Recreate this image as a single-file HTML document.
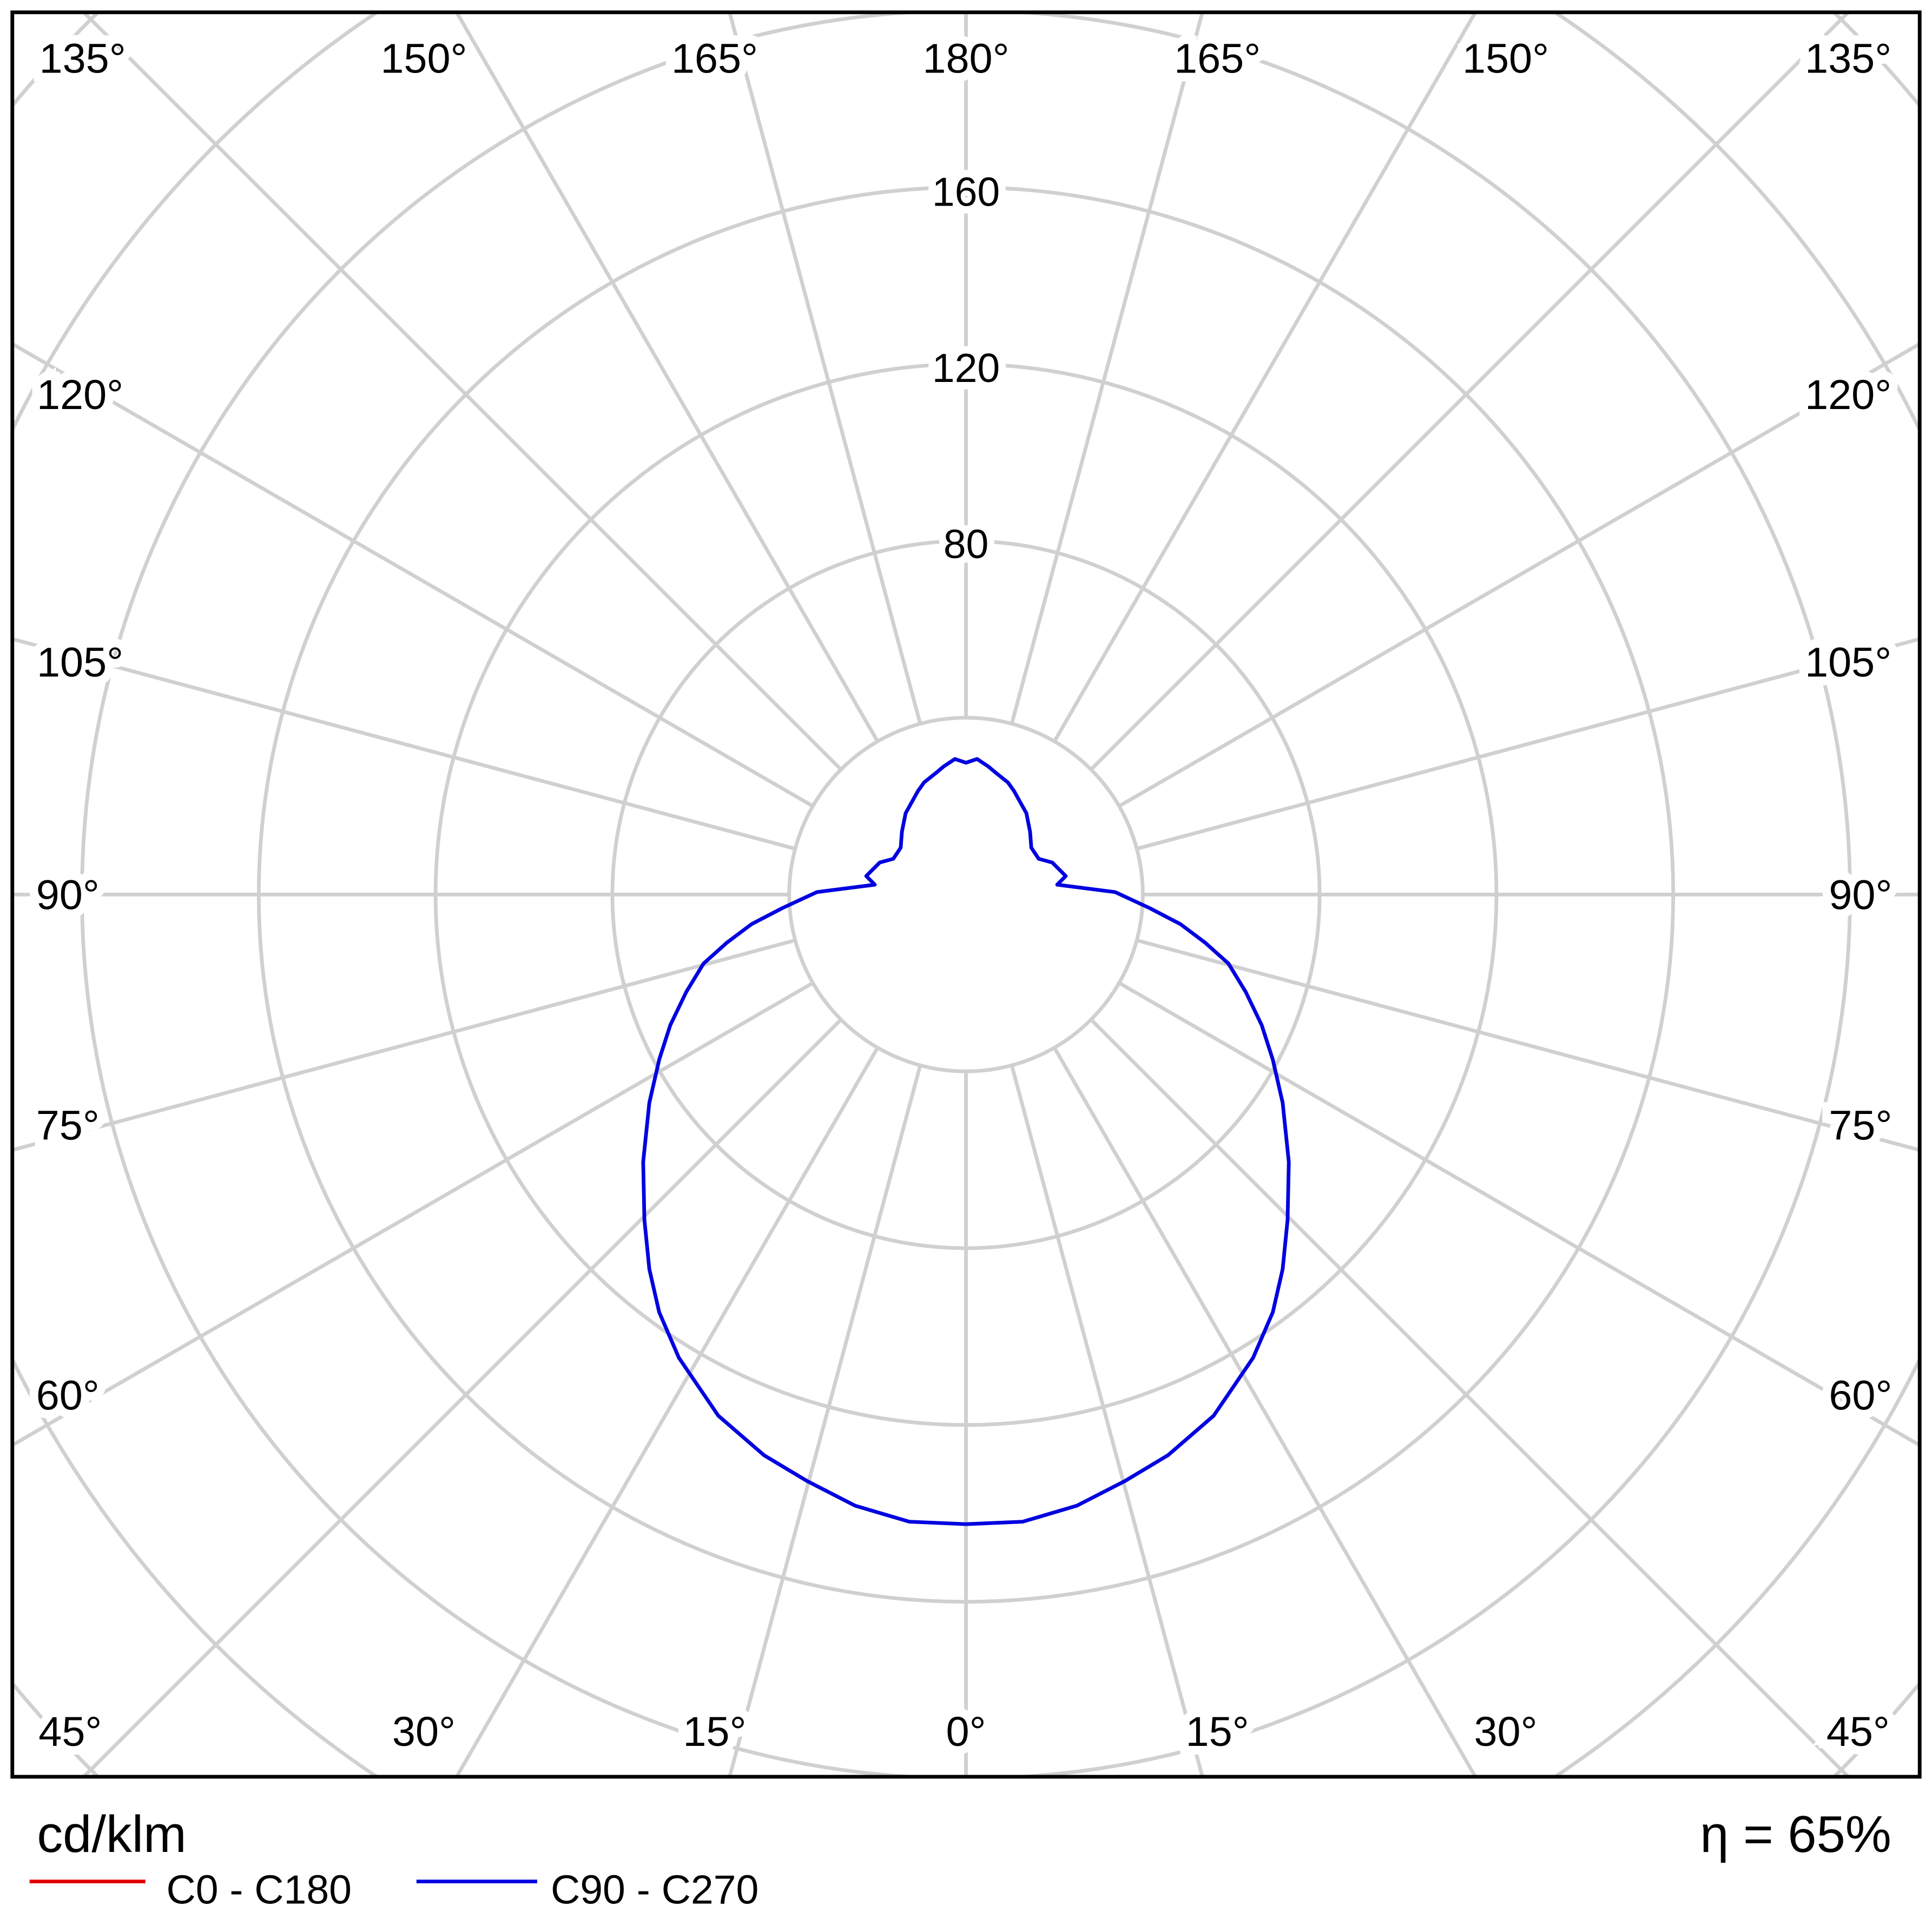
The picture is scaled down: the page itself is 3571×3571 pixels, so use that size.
<!DOCTYPE html>
<html><head><meta charset="utf-8"><style>
html,body{margin:0;padding:0;background:#fff;overflow:hidden;width:3571px;height:3571px;}
svg{display:block;}
text{font-family:"Liberation Sans","DejaVu Sans",sans-serif;fill:#000;}
</style></head><body>
<svg width="3571" height="3571" viewBox="0 0 1568 1568" xmlns="http://www.w3.org/2000/svg">
<defs><clipPath id="c"><rect x="10" y="10" width="1548" height="1432"/></clipPath></defs>
<rect width="1568" height="1568" fill="#fff"/>
<g clip-path="url(#c)" stroke="#d0d0d0" stroke-width="3" fill="none">
<circle cx="784" cy="726" r="143.5"/>
<circle cx="784" cy="726" r="287"/>
<circle cx="784" cy="726" r="430.5"/>
<circle cx="784" cy="726" r="574"/>
<circle cx="784" cy="726" r="717.5"/>
<circle cx="784" cy="726" r="861"/>
<circle cx="784" cy="726" r="1004.5"/>
<line x1="784" y1="869.5" x2="784" y2="2800"/>
<line x1="784" y1="869.5" x2="784" y2="2800" transform="rotate(15 784 726)"/>
<line x1="784" y1="869.5" x2="784" y2="2800" transform="rotate(30 784 726)"/>
<line x1="784" y1="869.5" x2="784" y2="2800" transform="rotate(45 784 726)"/>
<line x1="784" y1="869.5" x2="784" y2="2800" transform="rotate(60 784 726)"/>
<line x1="784" y1="869.5" x2="784" y2="2800" transform="rotate(75 784 726)"/>
<line x1="784" y1="869.5" x2="784" y2="2800" transform="rotate(90 784 726)"/>
<line x1="784" y1="869.5" x2="784" y2="2800" transform="rotate(105 784 726)"/>
<line x1="784" y1="869.5" x2="784" y2="2800" transform="rotate(120 784 726)"/>
<line x1="784" y1="869.5" x2="784" y2="2800" transform="rotate(135 784 726)"/>
<line x1="784" y1="869.5" x2="784" y2="2800" transform="rotate(150 784 726)"/>
<line x1="784" y1="869.5" x2="784" y2="2800" transform="rotate(165 784 726)"/>
<line x1="784" y1="869.5" x2="784" y2="2800" transform="rotate(180 784 726)"/>
<line x1="784" y1="869.5" x2="784" y2="2800" transform="rotate(195 784 726)"/>
<line x1="784" y1="869.5" x2="784" y2="2800" transform="rotate(210 784 726)"/>
<line x1="784" y1="869.5" x2="784" y2="2800" transform="rotate(225 784 726)"/>
<line x1="784" y1="869.5" x2="784" y2="2800" transform="rotate(240 784 726)"/>
<line x1="784" y1="869.5" x2="784" y2="2800" transform="rotate(255 784 726)"/>
<line x1="784" y1="869.5" x2="784" y2="2800" transform="rotate(270 784 726)"/>
<line x1="784" y1="869.5" x2="784" y2="2800" transform="rotate(285 784 726)"/>
<line x1="784" y1="869.5" x2="784" y2="2800" transform="rotate(300 784 726)"/>
<line x1="784" y1="869.5" x2="784" y2="2800" transform="rotate(315 784 726)"/>
<line x1="784" y1="869.5" x2="784" y2="2800" transform="rotate(330 784 726)"/>
<line x1="784" y1="869.5" x2="784" y2="2800" transform="rotate(345 784 726)"/>
</g>
<g font-size="33" text-anchor="middle" stroke="#fff" stroke-width="12" paint-order="stroke">
<text x="784" y="453">80</text>
<text x="784" y="310">120</text>
<text x="784" y="167">160</text>
</g>
<g font-size="34" text-anchor="middle" stroke="#fff" stroke-width="14" paint-order="stroke">
<text x="67" y="59">135°</text><text x="344" y="59">150°</text><text x="580" y="59">165°</text><text x="784" y="59">180°</text>
<text x="988" y="59">165°</text><text x="1222" y="59">150°</text><text x="1500" y="59">135°</text>
<text x="65" y="332">120°</text><text x="1500" y="332">120°</text>
<text x="65" y="549">105°</text><text x="1500" y="549">105°</text>
<text x="55" y="738">90°</text><text x="1510" y="738">90°</text>
<text x="55" y="925">75°</text><text x="1510" y="925">75°</text>
<text x="55" y="1144">60°</text><text x="1510" y="1144">60°</text>
<text x="57" y="1417">45°</text><text x="344" y="1417">30°</text><text x="580" y="1417">15°</text><text x="784" y="1417">0°</text>
<text x="988" y="1417">15°</text><text x="1222" y="1417">30°</text><text x="1508" y="1417">45°</text>
</g>
<polyline fill="none" stroke="#0000e0" stroke-width="3" stroke-linejoin="round" points="
784,1237 738,1235 694,1222 655,1202 620,1181 583,1149 551,1102 535,1065 527,1030 523,990 522,943 527,895 535,860 544,832 557,805 571,782 590,765 610,750 635,737 663,724 710,718 703,711 714,700 725,697 731,688 732,675 735,660 745,642 750,635 760,627 766,622 775,616 784,619 793,616 802,622 808,627 818,635 823,642 833,660 836,675 837,688 843,697 854,700 865,711 858,718 905,724 933,737 958,750 978,765 997,782 1011,805 1024,832 1033,860 1041,895 1046,943 1045,990 1041,1030 1033,1065 1017,1102 985,1149 948,1181 913,1202 874,1222 830,1235 784,1237"/>
<rect x="10" y="10" width="1548" height="1432" fill="none" stroke="#000" stroke-width="3"/>
<text x="30" y="1503" font-size="42">cd/klm</text>
<text x="1535" y="1503" font-size="42" text-anchor="end">η = 65%</text>
<line x1="24" y1="1527" x2="118" y2="1527" stroke="#e00000" stroke-width="3"/>
<text x="135" y="1545" font-size="33">C0 - C180</text>
<line x1="338" y1="1527" x2="436" y2="1527" stroke="#0000e0" stroke-width="3"/>
<text x="447" y="1545" font-size="33">C90 - C270</text>
</svg>
</body></html>
